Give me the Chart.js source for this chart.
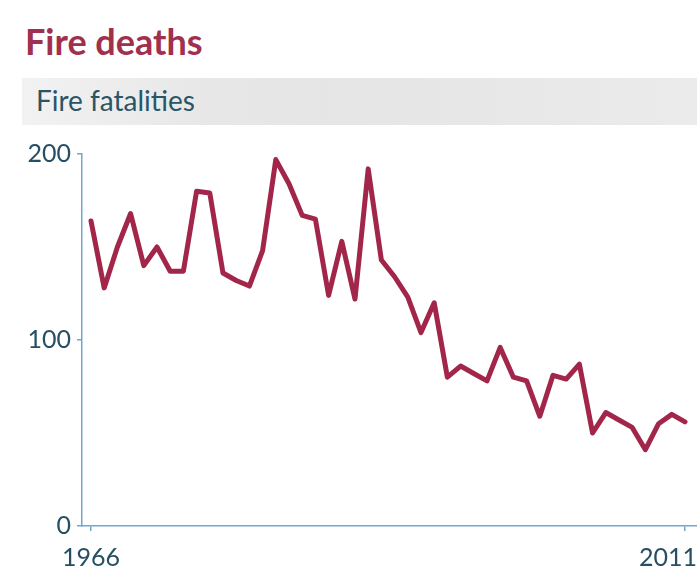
<!DOCTYPE html>
<html>
<head>
<meta charset="utf-8">
<script src="https://cdn.jsdelivr.net/npm/chart.js@4/dist/chart.umd.min.js"></script>
<style>
html,body{margin:0;padding:0;background:#fff;}
#wrap{position:relative;width:697px;height:572px;overflow:hidden;background:#fff;}
#title{position:absolute;left:25px;top:23px;font:bold 36px/36px Lato,sans-serif;color:#a0304e;white-space:nowrap;}
#band{position:absolute;left:22px;top:78px;width:675px;height:47px;
  background:linear-gradient(to right,#f2f2f2 0%,#e8e8e8 25%,#e5e5e5 45%,#ebebeb 100%);}
#sub{position:absolute;left:36px;top:86px;font:28px/28px Lato,sans-serif;color:#2a5568;white-space:nowrap;}
#cv{position:absolute;left:0;top:130px;}
</style>
</head>
<body>
<div id="wrap">
  <div id="band"></div>
  <div id="title">Fire deaths</div>
  <div id="sub">Fire fatalities</div>
  <canvas id="cv" width="697" height="442"></canvas>
</div>
<script>
// ---- data ----
const years = [1966,1967,1968,1969,1970,1971,1972,1973,1974,1975,
               1976,1977,1978,1979,1980,1981,1982,1983,1984,1985,
               1986,1987,1988,1989,1990,1991,1992,1993,1994,1995,
               1996,1997,1998,1999,2000,2001,2002,2003,2004,2005,
               2006,2007,2008,2009,2010,2011];
const fatalities = [164,128,150,168,140,150,137,137,180,179,
                    136,132,129,148,197,184,167,165,124,153,
                    122,192,143,134,123,104,120,80,86,82,
                    78,96,80,78,59,81,79,87,50,61,
                    57,53,41,55,60,56];
const xTickValues = [1966, 2011];
const xTickLabels = ['1966', '2011'];
const yTickValues = [0, 100, 200];

// ---- styles ----
const lineColor = '#a2264a';
const axisColor = '#6fa8cf';
const tickColor = '#264f63';
const tickFont = {family: 'Lato', size: 25};

const xLabelPlugin = {
  id: 'xLabels',
  afterDraw(chart) {
    const sc = chart.scales.x;
    const ctx = chart.ctx;
    ctx.save();
    ctx.font = tickFont.size + 'px ' + tickFont.family;
    ctx.fillStyle = tickColor;
    ctx.textAlign = 'left';
    ctx.textBaseline = 'alphabetic';
    xTickValues.forEach((v, i) => {
      const t = xTickLabels[i];
      const w = ctx.measureText(t).width;
      let left = sc.getPixelForValue(v) - w / 2;
      left = Math.max(0, Math.min(chart.width - w, left));
      ctx.fillText(t, left, sc.bottom - 6);
    });
    ctx.restore();
  }
};

new Chart(document.getElementById('cv'), {
  type: 'line',
  data: {
    datasets: [{
      data: years.map((y, i) => ({x: y, y: fatalities[i]})),
      borderColor: lineColor,
      borderWidth: 5,
      borderJoinStyle: 'round',
      borderCapStyle: 'round',
      pointRadius: 0,
      tension: 0,
      fill: false
    }]
  },
  options: {
    responsive: false,
    animation: false,
    layout: {padding: {top: 24, left: 0, right: 0, bottom: 0}},
    plugins: {legend: {display: false}, tooltip: {enabled: false}},
    scales: {
      x: {
        type: 'linear',
        min: 1965.318,
        max: 2011.91,
        afterBuildTicks(scale) { scale.ticks = xTickValues.map(v => ({value: v})); },
        afterFit(scale) { scale.height = 46; },
        ticks: {display: false},
        grid: {display: true, drawOnChartArea: false, drawTicks: true, tickLength: 5, color: axisColor, lineWidth: 1.5},
        border: {display: true, color: axisColor, width: 1.5}
      },
      y: {
        min: 0,
        max: 200,
        afterBuildTicks(scale) { scale.ticks = yTickValues.map(v => ({value: v})); },
        afterFit(scale) { scale.width = 82; },
        ticks: {font: tickFont, color: tickColor, padding: 6},
        grid: {display: true, drawOnChartArea: false, drawTicks: true, tickLength: 5, color: axisColor, lineWidth: 1.5},
        border: {display: true, color: axisColor, width: 1.5}
      }
    }
  },
  plugins: [xLabelPlugin]
});
</script>
</body>
</html>
